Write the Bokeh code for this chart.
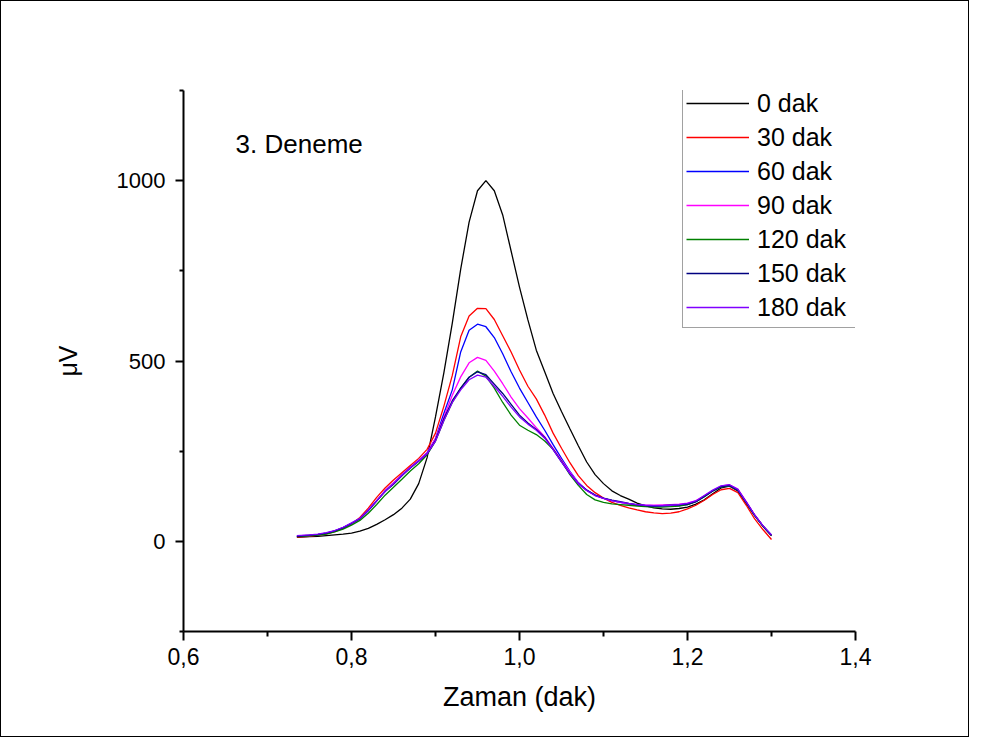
from bokeh.plotting import figure
from bokeh.models import (Range1d, FixedTicker, CustomJSTickFormatter, Label,
                          Legend, LegendItem)
from bokeh.embed import file_html
from bokeh.resources import INLINE

# ---------------- data ----------------
zaman = [0.735, 0.75, 0.76, 0.77, 0.78, 0.79, 0.80, 0.81, 0.82, 0.83,
         0.84, 0.85, 0.86, 0.87, 0.88, 0.89, 0.90, 0.91, 0.92, 0.93,
         0.94, 0.95, 0.96, 0.97, 0.98, 0.99, 1.00, 1.01, 1.02, 1.03,
         1.04, 1.05, 1.06, 1.07, 1.08, 1.09, 1.10, 1.11, 1.12, 1.13,
         1.14, 1.15, 1.16, 1.17, 1.18, 1.19, 1.20, 1.21, 1.22, 1.23,
         1.24, 1.25, 1.26, 1.27, 1.28, 1.29, 1.30]

dak_0 = [11, 13, 14, 16, 18, 20, 23, 28, 36, 47,
         60, 74, 92, 117, 160, 232, 345, 468, 605, 755,
         885, 972, 1000, 972, 905, 805, 705, 614, 530, 470,
         410, 360, 312, 265, 220, 185, 160, 140, 127, 117,
         106, 98, 93, 90, 89, 91, 95, 103, 115, 132,
         148, 153, 140, 105, 72, 42, 15]

dak_30 = [12, 14, 17, 21, 27, 36, 48, 66, 92, 122,
          148, 170, 190, 210, 230, 255, 300, 375, 460, 567,
          625, 646, 645, 615, 570, 525, 475, 430, 395, 350,
          300, 258, 218, 182, 155, 135, 120, 108, 100, 93,
          87, 82, 79, 77, 78, 82, 90, 100, 114, 130,
          143, 147, 135, 100, 62, 32, 5]

dak_60 = [14, 16, 18, 22, 28, 37, 49, 62, 85, 112,
          140, 162, 184, 205, 224, 246, 285, 355, 420, 525,
          585, 602, 595, 565, 520, 470, 425, 385, 345, 308,
          268, 230, 194, 163, 142, 128, 119, 113, 108, 104,
          101, 99, 98, 98, 98, 99, 102, 110, 124, 140,
          151, 154, 142, 108, 72, 42, 17]

dak_90 = [15, 17, 19, 23, 29, 38, 49, 63, 86, 113,
          140, 162, 184, 205, 224, 245, 285, 345, 405, 456,
          495, 510, 502, 472, 437, 400, 368, 342, 315, 290,
          258, 225, 192, 162, 141, 127, 119, 113, 108, 104,
          101, 100, 100, 101, 102, 103, 106, 113, 126, 141,
          153, 157, 145, 110, 73, 42, 16]

dak_120 = [13, 15, 17, 20, 26, 34, 45, 58, 78, 102,
           128, 150, 172, 195, 215, 240, 278, 335, 385, 425,
           455, 472, 458, 425, 385, 350, 322, 308, 296, 278,
           255, 222, 185, 155, 130, 115, 108, 104, 102, 100,
           98, 96, 95, 95, 96, 98, 102, 110, 124, 140,
           151, 154, 142, 107, 71, 41, 16]

dak_150 = [14, 17, 19, 23, 29, 38, 50, 63, 86, 112,
           138, 158, 182, 203, 222, 242, 280, 340, 390, 425,
           455, 470, 462, 436, 410, 380, 350, 328, 310, 288,
           255, 220, 188, 160, 142, 128, 120, 114, 110, 105,
           101, 99, 98, 99, 100, 101, 103, 110, 125, 140,
           152, 155, 142, 108, 72, 42, 17]

dak_180 = [16, 18, 20, 24, 30, 39, 51, 64, 87, 113,
           139, 160, 183, 204, 223, 243, 278, 335, 385, 420,
           448, 461, 455, 430, 402, 372, 345, 325, 308, 286,
           254, 220, 188, 160, 141, 127, 119, 113, 109, 105,
           102, 100, 99, 99, 100, 102, 105, 112, 127, 142,
           154, 157, 144, 109, 73, 43, 18]

series_labels = ["0 dak", "30 dak", "60 dak", "90 dak", "120 dak", "150 dak", "180 dak"]
series_values = [dak_0, dak_30, dak_60, dak_90, dak_120, dak_150, dak_180]
series_colors = ["#000000", "#ff0000", "#0000ff", "#ff00ff", "#008000", "#000080", "#8000ff"]

x_ticks = [0.6, 0.8, 1.0, 1.2, 1.4]
x_minor = [0.7, 0.9, 1.1, 1.3]
y_ticks = [0, 500, 1000]
y_minor = [-250, 250, 750, 1250]

FONT = "Liberation Sans"

# ---------------- figure ----------------
p = figure(width=969, height=737, output_backend="svg", toolbar_location=None,
           x_range=Range1d(0.6, 1.4), y_range=Range1d(-250, 1250),
           min_border_left=182, min_border_right=115,
           min_border_top=89, min_border_bottom=107,
           background_fill_color="white", border_fill_color="white")
p.styles = {"border": "1px solid black"}
p.outline_line_color = None
p.grid.visible = False

renderers = []
for vals, col in zip(series_values, series_colors):
    r = p.line(zaman, vals, line_color=col, line_width=1.3)
    renderers.append(r)

# axes
for ax in (p.xaxis[0], p.yaxis[0]):
    ax.axis_line_width = 2
    ax.axis_line_color = "black"
    ax.major_tick_line_width = 2
    ax.minor_tick_line_width = 2
    ax.major_tick_in = 0
    ax.minor_tick_in = 0
    ax.major_label_text_font = FONT
    ax.major_label_text_color = "black"
    ax.axis_label_text_font = FONT
    ax.axis_label_text_font_style = "normal"
    ax.axis_label_text_color = "black"

p.xaxis.ticker = FixedTicker(ticks=x_ticks, minor_ticks=x_minor)
p.yaxis.ticker = FixedTicker(ticks=y_ticks, minor_ticks=y_minor)
p.xaxis.formatter = CustomJSTickFormatter(code="return tick.toFixed(1).replace('.', ',');")
p.xaxis.major_label_text_font_size = "23px"
p.yaxis.major_label_text_font_size = "22px"
p.xaxis.major_tick_out = 9
p.xaxis.minor_tick_out = 5
p.yaxis.major_tick_out = 8
p.yaxis.minor_tick_out = 4
p.xaxis.major_label_standoff = 7
p.yaxis.major_label_standoff = 10

p.xaxis.axis_label = "Zaman (dak)"
p.xaxis.axis_label_text_font_size = "27px"
p.xaxis.axis_label_standoff = 14
p.yaxis.axis_label = "\u03bcV"
p.yaxis.axis_label_text_font_size = "25px"
p.yaxis.axis_label_standoff = 32

# annotation text
p.add_layout(Label(x=0.662, y=1103, text="3. Deneme", text_font=FONT,
                   text_font_size="26px", text_color="black",
                   text_baseline="alphabetic"))

# legend
items = [LegendItem(label=lab, renderers=[r]) for lab, r in zip(series_labels, renderers)]
legend = Legend(items=items, location=(499, 303), orientation="vertical",
                glyph_width=63, glyph_height=34, label_height=34, label_width=100,
                label_standoff=8, padding=3, spacing=0, margin=0,
                border_line_color="#444444", border_line_width=1,
                background_fill_color="white", background_fill_alpha=1,
                label_text_font=FONT, label_text_font_size="25px",
                label_text_color="black")
p.add_layout(legend)

open("out.html", "w").write(file_html(p, INLINE))
